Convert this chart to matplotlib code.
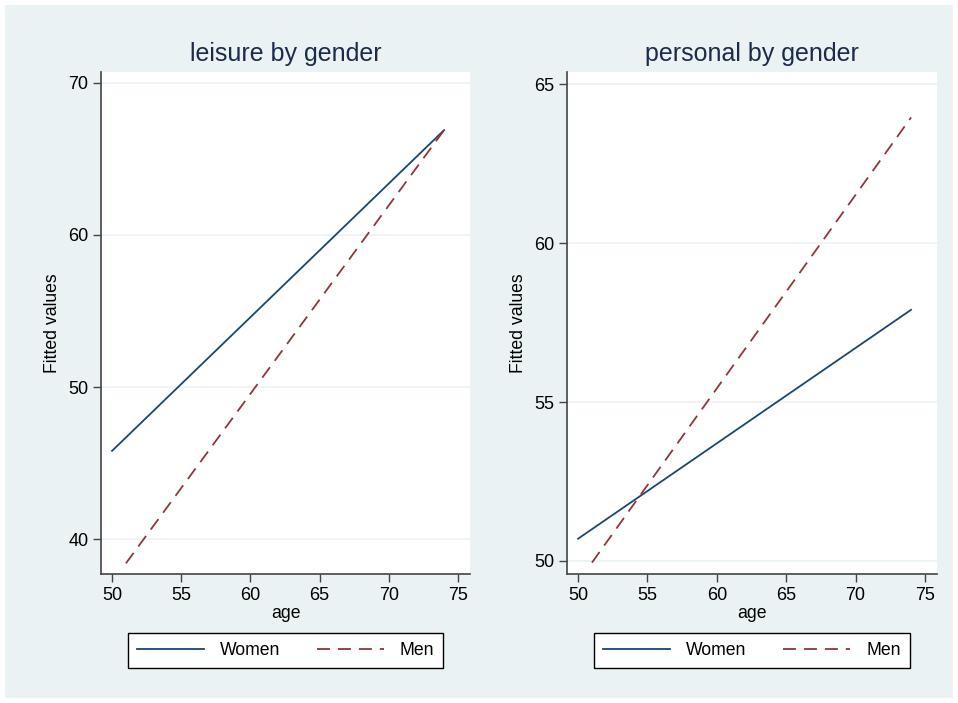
import matplotlib
matplotlib.use("Agg")
from matplotlib import pyplot as plt
from matplotlib import font_manager as fm
from matplotlib.patches import Rectangle
import numpy as np

# fitted-line endpoints
age_women = [50, 74]
age_men = [51, 74]
leisure_women = [45.8, 66.9]
leisure_men = [38.4, 66.9]
personal_women = [50.7, 57.9]
personal_men = [49.95, 63.95]

titles = ["leisure by gender", "personal by gender"]
yticks_left = [40, 50, 60, 70]
yticks_right = [50, 55, 60, 65]
xticks = [50, 55, 60, 65, 70, 75]

# keep the narrow variant out of the way
fm.fontManager.ttflist = [f for f in fm.fontManager.ttflist if 'Narrow' not in f.fname]
plt.rcParams['font.family'] = ['Liberation Sans', 'DejaVu Sans']

bg = '#eaf2f3'
navy = '#1a476f'
maroon = '#90353b'

fig = plt.figure(figsize=(9.58, 7.03), dpi=100, facecolor='white')
fig.patches.append(Rectangle((5/958, 5/703), 948/958, 693/703, transform=fig.transFigure,
                             facecolor=bg, edgecolor='none', zorder=-10))

ax1 = fig.add_axes([101/958, 1 - 574/703, 369/958, 502/703])
ax2 = fig.add_axes([567/958, 1 - 574/703, 370/958, 502/703])

panels = [
    (ax1, leisure_women, leisure_men, yticks_left, (37.7, 70.72)),
    (ax2, personal_women, personal_men, yticks_right, (49.59, 65.38)),
]

for i, (ax, w, m, yt, ylim) in enumerate(panels):
    ax.plot(age_women, w, color=navy, lw=1.3, label='Women')
    ax.plot(age_men, m, color=maroon, lw=1.3, dashes=(7.2, 4.4), label='Men')
    ax.set_xlim(49.2, 75.87)
    ax.set_ylim(*ylim)
    ax.set_xticks(xticks)
    ax.set_yticks(yt)
    ax.yaxis.grid(True, color=bg, lw=1.2)
    ax.set_axisbelow(True)
    for s in ['top', 'right']:
        ax.spines[s].set_visible(False)
    for s in ['left', 'bottom']:
        ax.spines[s].set_color('#444444')
        ax.spines[s].set_linewidth(1.2)
    ax.tick_params(direction='out', length=6, width=1, color='#444444',
                   labelsize=13, pad=3)
    ax.set_xlabel('age', fontsize=12.7, labelpad=1)
    ax.set_ylabel('Fitted values', fontsize=12.7, labelpad=5)
    ax.set_title(titles[i], fontsize=18, color='#1a2b4c', pad=8)
    leg = ax.legend(loc='center', bbox_to_anchor=(0.5, -0.152), ncol=2,
                    fontsize=12.7, frameon=True, fancybox=False,
                    handlelength=3.8, handletextpad=0.9, columnspacing=2.1,
                    borderpad=0.5, edgecolor='black', framealpha=1)
    leg.get_frame().set_linewidth(1.0)

fig.savefig('out.png', dpi=100, facecolor=fig.get_facecolor())
